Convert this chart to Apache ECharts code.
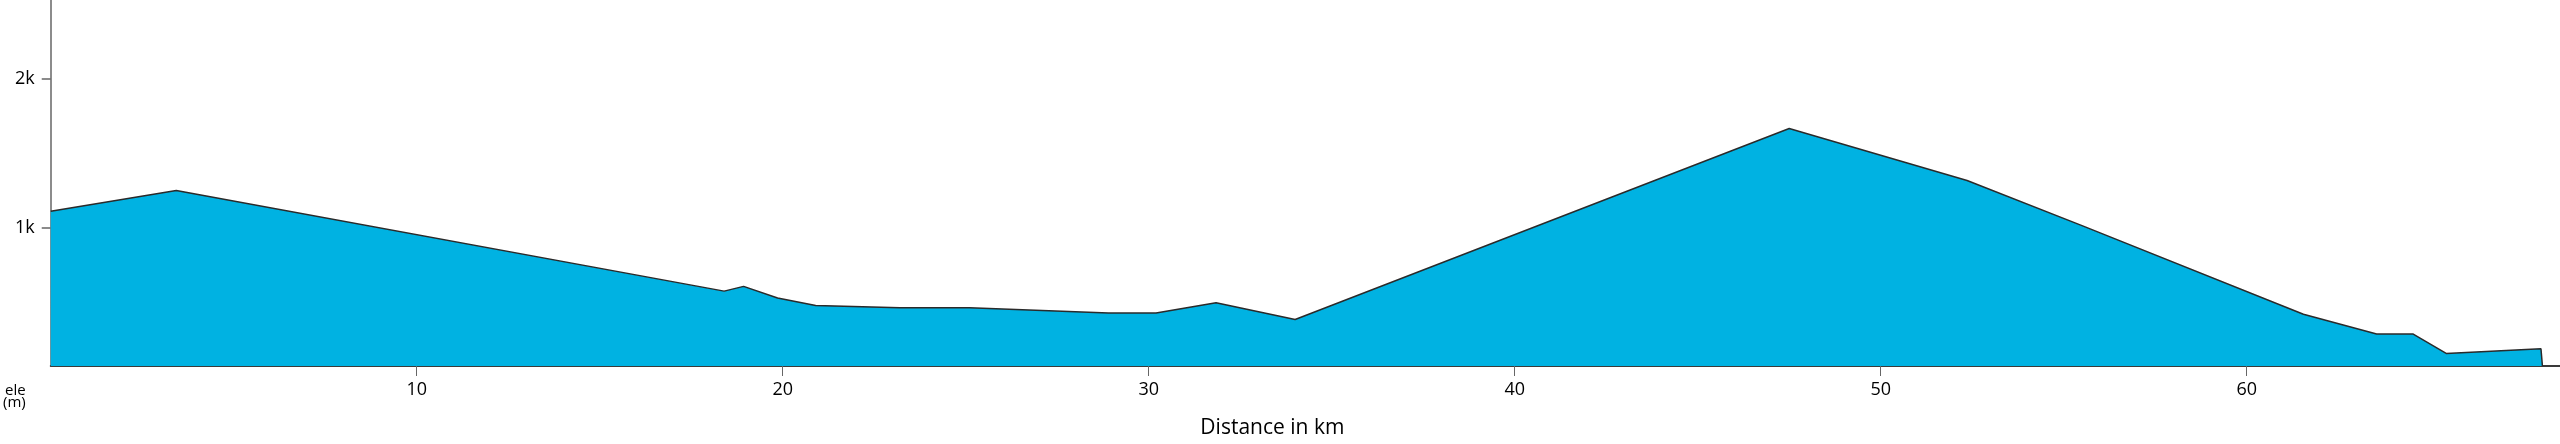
<!DOCTYPE html>
<html>
<head>
<meta charset="utf-8">
<script src="https://cdn.jsdelivr.net/npm/echarts@6/dist/echarts.min.js"></script>
<style>
html,body{margin:0;padding:0;background:#fff;}
#chart{width:2560px;height:444px;}
</style>
</head>
<body>
<div id="chart"></div>
<script>
// Distance along the route (km)
const distanceKm = [0, 3.43, 18.4, 18.93, 19.86, 20.9, 23.2, 25.1, 28.9, 30.2, 31.84, 34.0, 47.5, 52.36, 55.5, 61.55, 63.55, 64.55, 65.45, 68.04, 68.08];
// Elevation (m)
const elevationM = [1112, 1250, 576, 608, 530, 479, 464, 464, 430, 430, 498, 386, 1666, 1318, 1015, 421, 288, 288, 158, 190, 74];
// Tick values
const xTicks = [10, 20, 30, 40, 50, 60];
const yTicks = [1000, 2000];
const xAxisName = 'Distance in km';
const yAxisName = 'ele\n(m)';

const points = distanceKm.map((d, i) => [d, elevationM[i]]);

const chart = echarts.init(document.getElementById('chart'), null, {renderer: 'canvas'});
const font = '"Open Sans", "DejaVu Sans", sans-serif';
chart.setOption({
  animation: false,
  backgroundColor: '#ffffff',
  grid: {left: 50, right: 0, top: 0, bottom: 77, containLabel: false},
  xAxis: {
    type: 'value',
    min: 0,
    max: 68.56,
    name: xAxisName,
    nameLocation: 'middle',
    nameGap: 52,
    nameTextStyle: {fontFamily: font, fontSize: 21, fontWeight: 500, color: '#000', padding: [0, 66, 0, 0]},
    axisLine: {show: true, lineStyle: {color: '#3a3a3a', width: 2}},
    axisTick: {show: true, length: 10, lineStyle: {color: '#666', width: 1}, customValues: xTicks},
    axisLabel: {fontFamily: font, fontSize: 18, fontWeight: 500, color: '#000', margin: 15, customValues: xTicks},
    splitLine: {show: false}
  },
  yAxis: {
    type: 'value',
    min: 74,
    max: 2528,
    name: yAxisName,
    nameLocation: 'start',
    nameGap: 19,
    nameTextStyle: {fontFamily: font, fontSize: 15, fontWeight: 500, lineHeight: 12, color: '#000', align: 'right', verticalAlign: 'top', padding: [0, 25, 0, 0]},
    axisLine: {show: true, lineStyle: {color: '#666', width: 1.5}},
    axisTick: {show: true, length: 9, lineStyle: {color: '#666', width: 1.5}, customValues: yTicks},
    axisLabel: {fontFamily: font, fontSize: 18, fontWeight: 500, color: '#000', margin: 16, customValues: yTicks,
      formatter: v => (v / 1000) + 'k'},
    splitLine: {show: false}
  },
  series: [{
    type: 'line',
    data: points,
    showSymbol: false,
    symbol: 'none',
    lineStyle: {color: '#2a2a2a', width: 1.5},
    areaStyle: {color: '#00B2E2', opacity: 1},
    z: 1
  }]
});
</script>
</body>
</html>
